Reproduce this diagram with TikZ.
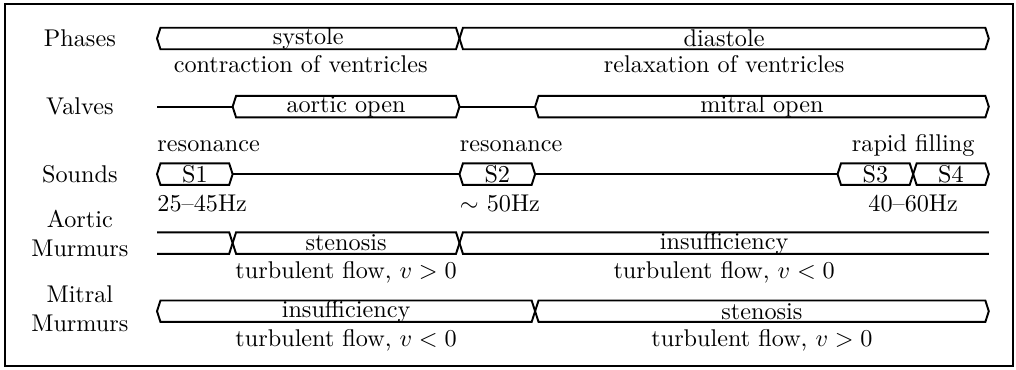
\documentclass[tikz,border=0pt]{standalone}
\usepackage{amsmath}
\usepackage{tikz}
\usetikzlibrary{positioning,calc}
\newcommand{\busH}{0.156cm}
\newcommand{\busS}{0.05cm}
\tikzset{
  % Signal line
  sig/.style={line width=0.8pt,line join=miter},
  % Row title
  rowlbl/.style={align=center,inner sep=0pt},
  % Text inside a bus
  bustext/.style={inner sep=0pt},
  % Note under or over a bus
  note/.style={anchor=base,inner sep=0pt},
  notew/.style={anchor=base west,inner sep=0pt}
}
% Bus segment: row, start, end, name, text
\newcommand{\busbox}[5]{%
  \draw[sig] (#2,#1) -- ++(\busS,\busH) -- ([shift={(-\busS,\busH)}]#3,#1)
    -- (#3,#1) -- ([shift={(-\busS,-\busH)}]#3,#1)
    -- ([shift={(\busS,-\busH)}]#2,#1) -- cycle;
  \node[bustext] (#4) at ({(#2+#3)/2},#1) {#5};}
\begin{document}
\begin{tikzpicture}[x=1.098cm,y=1cm]
  \useasboundingbox (-2.280cm,0.559cm) rectangle (12.473cm,-4.813cm);
  \draw[sig] (-2.207cm,0.501cm) rectangle (12.430cm,-4.755cm);
  % Row titles
  \node[rowlbl] (phases) at (-1.02,0)     {Phases};
  \node[rowlbl] (valves) at (-1.02,-0.99) {Valves};
  \node[rowlbl] (sounds) at (-1.02,-1.97) {Sounds};
  \node[rowlbl] (aortic) at (-1.02,-2.83) {Aortic\\Murmurs};
  \node[rowlbl] (mitral) at (-1.02,-3.92) {Mitral\\Murmurs};
  % Phases
  \busbox{0}{0}{4}{sys}{systole}
  \busbox{0}{4}{11}{dia}{diastole}
  \node[note] (contr) at (1.9,-0.50) {contraction of ventricles};
  \node[note] (relax) at (7.5,-0.50) {relaxation of ventricles};
  % Valves
  \coordinate (v0) at (0,-0.99);
  \coordinate (v1) at (1,-0.99);
  \coordinate (v4) at (4,-0.99);
  \coordinate (v5) at (5,-0.99);
  \draw[sig] (v0) -- (v1);
  \draw[sig] (v4) -- (v5);
  \busbox{-0.99}{1}{4}{aop}{aortic open}
  \busbox{-0.99}{5}{11}{mop}{mitral open}
  % Sounds
  \busbox{-1.97}{0}{1}{s1}{S1}
  \busbox{-1.97}{4}{5}{s2}{S2}
  \busbox{-1.97}{9}{10}{s3}{S3}
  \busbox{-1.97}{10}{11}{s4}{S4}
  \coordinate (s1e) at (1,-1.97);
  \coordinate (s2w) at (4,-1.97);
  \coordinate (s2e) at (5,-1.97);
  \coordinate (s3w) at (9,-1.97);
  \draw[sig] (s1e) -- (s2w);
  \draw[sig] (s2e) -- (s3w);
  \node[notew] (res1) at (0,-1.645)  {resonance};
  \node[notew] (res2) at (4,-1.645)  {resonance};
  \node[note]  (rapid) at (10,-1.645) {rapid filling};
  \node[notew] (hz1) at (0,-2.517)   {25--45Hz};
  \node[notew] (hz2) at (4,-2.517)   {$\sim$ 50Hz};
  \node[note]  (hz3) at (10,-2.517)  {40--60Hz};
  % Aortic murmurs
  \draw[sig] ([yshift=\busH]0,-2.97) -- ([shift={(-\busS,\busH)}]1,-2.97) -- (1,-2.97)
    -- ([shift={(-\busS,-\busH)}]1,-2.97) -- ([yshift=-\busH]0,-2.97);
  \busbox{-2.97}{1}{4}{aste}{stenosis}
  \draw[sig] ([yshift=\busH]11,-2.97) -- ([shift={(\busS,\busH)}]4,-2.97) -- (4,-2.97)
    -- ([shift={(\busS,-\busH)}]4,-2.97) -- ([yshift=-\busH]11,-2.97);
  \node[bustext] (ains) at (7.5,-2.97) {insufficiency};
  \node[note] (aflow1) at (2.5,-3.48) {turbulent flow, $v>0$};
  \node[note] (aflow2) at (7.5,-3.48) {turbulent flow, $v<0$};
  % Mitral murmurs
  \busbox{-3.96}{0}{5}{mins}{insufficiency}
  \busbox{-3.96}{5}{11}{mste}{stenosis}
  \node[note] (mflow1) at (2.5,-4.47) {turbulent flow, $v<0$};
  \node[note] (mflow2) at (8,-4.47)   {turbulent flow, $v>0$};
\end{tikzpicture}
\end{document}
